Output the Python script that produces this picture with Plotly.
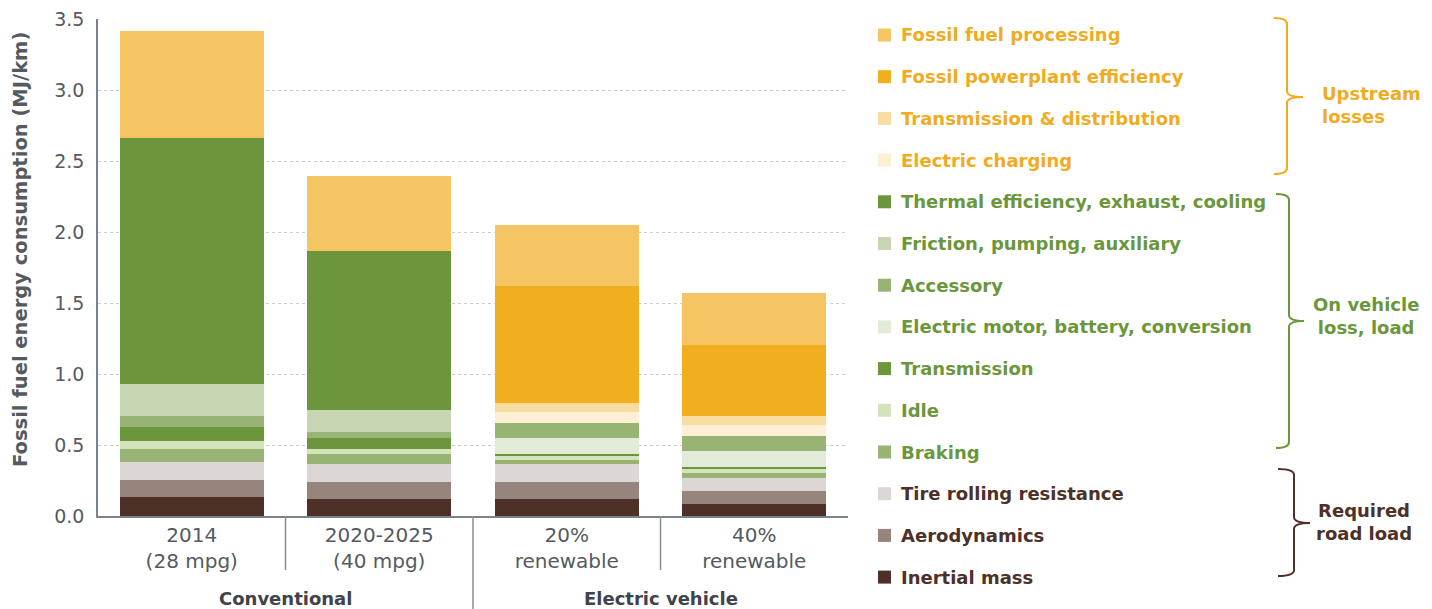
import plotly.graph_objects as go

# categories on the x axis
categories = ["2014<br>(28 mpg)", "2020-2025<br>(40 mpg)", "20%<br>renewable", "40%<br>renewable"]
groups = ["Conventional", "Electric vehicle"]

# segment heights in MJ/km, stacked from the bottom up
inertial_mass = [0.136, 0.120, 0.120, 0.085]
aerodynamics = [0.118, 0.119, 0.119, 0.091]
tire_rolling = [0.126, 0.127, 0.129, 0.092]
braking = [0.092, 0.071, 0.026, 0.035]
idle = [0.056, 0.035, 0.029, 0.028]
transmission = [0.099, 0.077, 0.014, 0.014]
electric_motor = [0.0, 0.0, 0.112, 0.113]
accessory = [0.077, 0.043, 0.106, 0.105]
friction = [0.226, 0.154, 0.0, 0.0]
thermal = [1.732, 1.120, 0.0, 0.0]
electric_charging = [0.0, 0.0, 0.077, 0.078]
trans_dist = [0.0, 0.0, 0.064, 0.063]
powerplant = [0.0, 0.0, 0.824, 0.500]
fuel_processing = [0.753, 0.528, 0.429, 0.366]

ORANGE = "#f0ab1f"
GREEN = "#6b963c"
BROWN = "#4d3027"
GREY = "#555a60"
FONT = "DejaVu Sans"

# (name, values, fill colour, text colour) bottom -> top
series = [
    ("Inertial mass", inertial_mass, "#4d3027", BROWN),
    ("Aerodynamics", aerodynamics, "#95857d", BROWN),
    ("Tire rolling resistance", tire_rolling, "#dcd7d5", BROWN),
    ("Braking", braking, "#98b475", GREEN),
    ("Idle", idle, "#d3e3bb", GREEN),
    ("Transmission", transmission, "#6b963c", GREEN),
    ("Electric motor, battery, conversion", electric_motor, "#e2ebd8", GREEN),
    ("Accessory", accessory, "#98b475", GREEN),
    ("Friction, pumping, auxiliary", friction, "#c6d6b3", GREEN),
    ("Thermal efficiency, exhaust, cooling", thermal, "#6b963c", GREEN),
    ("Electric charging", electric_charging, "#fdefd4", ORANGE),
    ("Transmission & distribution", trans_dist, "#f9dca1", ORANGE),
    ("Fossil powerplant efficiency", powerplant, "#f1af1f", ORANGE),
    ("Fossil fuel processing", fuel_processing, "#f5c564", ORANGE),
]

W, H = 1432, 609
L, R, T, B = 98, 848, 19, 516


def px(x):
    return (x - L) / (R - L)


def py(y):
    return (B - y) / (B - T)


fig = go.Figure()
for name, vals, col, _ in series:
    fig.add_trace(go.Bar(x=categories, y=vals, name=name,
                         marker=dict(color=col, line=dict(width=0)),
                         showlegend=False))

shapes = []
annotations = []

# manual legend, top item first
for i, (name, vals, col, tcol) in enumerate(reversed(series)):
    yc = 35 + i * 41.7
    shapes.append(dict(type="rect", xref="paper", yref="paper",
                       x0=px(878), x1=px(891), y0=py(yc + 6.5), y1=py(yc - 6.5),
                       fillcolor=col, line=dict(width=0)))
    annotations.append(dict(xref="paper", yref="paper", x=px(899), y=py(yc),
                            text=name, showarrow=False, xanchor="left", yanchor="middle",
                            font=dict(family=FONT, size=18, color=tcol, weight="bold")))


def brace(xv, top, tip, bottom, hook, tipx, color):
    r = 6
    path = (f"M {px(hook)},{py(top)} Q {px(xv)},{py(top)} {px(xv)},{py(top + r)} "
            f"L {px(xv)},{py(tip - r)} Q {px(xv)},{py(tip)} {px(tipx)},{py(tip)} "
            f"Q {px(xv)},{py(tip)} {px(xv)},{py(tip + r)} "
            f"L {px(xv)},{py(bottom - r)} Q {px(xv)},{py(bottom)} {px(hook)},{py(bottom)}")
    return dict(type="path", xref="paper", yref="paper", path=path,
                line=dict(color=color, width=2))


shapes.append(brace(1287, 18, 97, 174, 1274, 1303, ORANGE))
shapes.append(brace(1289, 194, 321, 448, 1276, 1304, GREEN))
shapes.append(brace(1294, 469, 523, 576, 1278, 1310, BROWN))

for txt, x, y, col, anc in [("Upstream<br>losses", 1320, 105, ORANGE, "left"),
                            ("On vehicle<br>loss, load", 1366, 316, GREEN, "center"),
                            ("Required<br>road load", 1364, 522, BROWN, "center")]:
    annotations.append(dict(xref="paper", yref="paper", x=px(x), y=py(y), text=txt,
                            showarrow=False, xanchor=anc, yanchor="middle", align=anc,
                            font=dict(family=FONT, size=18, color=col, weight="bold")))

# axis title
annotations.append(dict(xref="paper", yref="paper", x=px(20), y=py(250),
                        text="Fossil fuel energy consumption (MJ/km)", textangle=-90,
                        showarrow=False, xanchor="center", yanchor="middle",
                        font=dict(family=FONT, size=19.5, color=GREY, weight="bold")))

# category dividers below the axis
for xv, y_end in [(0.5, 570), (1.5, 609), (2.5, 570)]:
    shapes.append(dict(type="line", xref="x", yref="paper", x0=xv, x1=xv,
                       y0=py(516), y1=py(y_end), line=dict(color="#8a8f96", width=1.5)))

for g, xv in zip(groups, [0.5, 2.5]):
    annotations.append(dict(xref="x", yref="paper", x=xv, y=py(598), text=g,
                            showarrow=False, xanchor="center", yanchor="middle",
                            font=dict(family=FONT, size=18, color="#3f4449", weight="bold")))

fig.update_layout(
    width=W, height=H,
    margin=dict(l=L, r=W - R, t=T, b=H - B, autoexpand=False),
    plot_bgcolor="white", paper_bgcolor="white",
    barmode="stack", bargap=0.23,
    font=dict(family=FONT, color=GREY),
    shapes=shapes, annotations=annotations,
)
fig.update_xaxes(showline=True, linecolor="#7a838c", linewidth=2, automargin=False,
                 tickfont=dict(size=20, color=GREY), ticks="")
fig.update_yaxes(range=[0, 3.5], dtick=0.5, tickformat=".1f", automargin=False,
                 showline=True, linecolor="#7a838c", linewidth=1.5,
                 showgrid=True, gridcolor="#cccccc", griddash="dot", gridwidth=1,
                 zeroline=False, tickfont=dict(size=19, color=GREY), ticks="",
                 ticklabelstandoff=8)

fig.write_html("out.html", config={"displayModeBar": False},
               post_script="document.body.style.margin='0';")
